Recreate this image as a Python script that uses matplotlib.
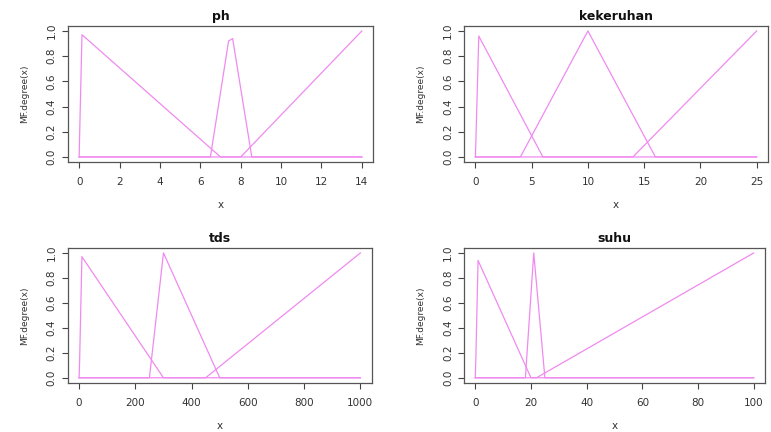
import numpy as np
import matplotlib.pyplot as plt

# membership function vertices for each input variable
ph_range = (0, 14)
ph_x = [[0, 0.02, 0.14, 7, 14],
        [0, 6.5, 7.4, 7.6, 8.55, 14],
        [0, 8, 14]]
ph_y = [[0, 0.15, 0.97, 0, 0],
        [0, 0, 0.92, 0.94, 0, 0],
        [0, 0, 1]]

keruh_range = (0, 25)
keruh_x = [[0, 0.05, 0.3, 6, 25],
           [0, 4, 10, 16, 25],
           [0, 14, 25]]
keruh_y = [[0, 0.15, 0.96, 0, 0],
           [0, 0, 1, 0, 0],
           [0, 0, 1]]

tds_range = (0, 1000)
tds_x = [[0, 2, 10, 300, 1000],
         [0, 250, 300, 500, 1000],
         [0, 450, 1000]]
tds_y = [[0, 0.15, 0.97, 0, 0],
         [0, 0, 1, 0, 0],
         [0, 0, 1]]

suhu_range = (0, 100)
suhu_x = [[0, 0.2, 1, 20, 100],
          [0, 18, 21, 25, 100],
          [0, 22, 100]]
suhu_y = [[0, 0.15, 0.94, 0, 0],
          [0, 0, 1, 0, 0],
          [0, 0, 1]]

titles = ['ph', 'kekeruhan', 'tds', 'suhu']
xticks = [[0, 2, 4, 6, 8, 10, 12, 14],
          [0, 5, 10, 15, 20, 25],
          [0, 200, 400, 600, 800, 1000],
          [0, 20, 40, 60, 80, 100]]
yticks = [0.0, 0.2, 0.4, 0.6, 0.8, 1.0]

variables = [(ph_range, ph_x, ph_y), (keruh_range, keruh_x, keruh_y),
             (tds_range, tds_x, tds_y), (suhu_range, suhu_x, suhu_y)]

# axes boxes in figure coordinates [left, bottom, width, height]
boxes = [[0.088, 0.625, 0.396, 0.315],
         [0.602, 0.625, 0.394, 0.315],
         [0.088, 0.114, 0.394, 0.312],
         [0.602, 0.114, 0.390, 0.312]]

line_col = '#F08AF0'
text_col = '#333333'

fig = plt.figure(figsize=(7.71, 4.32), dpi=100)

for box, title, (rng, xs, ys), xt in zip(boxes, titles, variables, xticks):
    ax = fig.add_axes(box)
    for x, y in zip(xs, ys):
        ax.plot(x, y, color=line_col, lw=0.9)
    span = rng[1] - rng[0]
    ax.set_xlim(rng[0] - 0.04 * span, rng[1] + 0.04 * span)
    ax.set_ylim(-0.04, 1.04)
    ax.set_xticks(xt)
    ax.set_xticklabels([str(v) for v in xt])
    ax.set_yticks(yticks)
    ax.set_yticklabels(['%.1f' % v for v in yticks], rotation=90, va='center')
    ax.tick_params(direction='out', length=4, width=0.8, colors='#444444',
                   labelsize=7.5, labelcolor=text_col)
    ax.tick_params(axis='x', pad=7)
    ax.tick_params(axis='y', pad=4)
    for s in ax.spines.values():
        s.set_color('#555555')
        s.set_linewidth(0.9)
    ax.set_title(title, fontsize=9, fontweight='bold', color='#111111', pad=4)
    ax.set_xlabel('x', fontsize=7.5, color=text_col, labelpad=9)
    ax.set_ylabel('MF.degree(x)', fontsize=6.5, color=text_col, labelpad=13)

fig.savefig('out.png', dpi=100)
